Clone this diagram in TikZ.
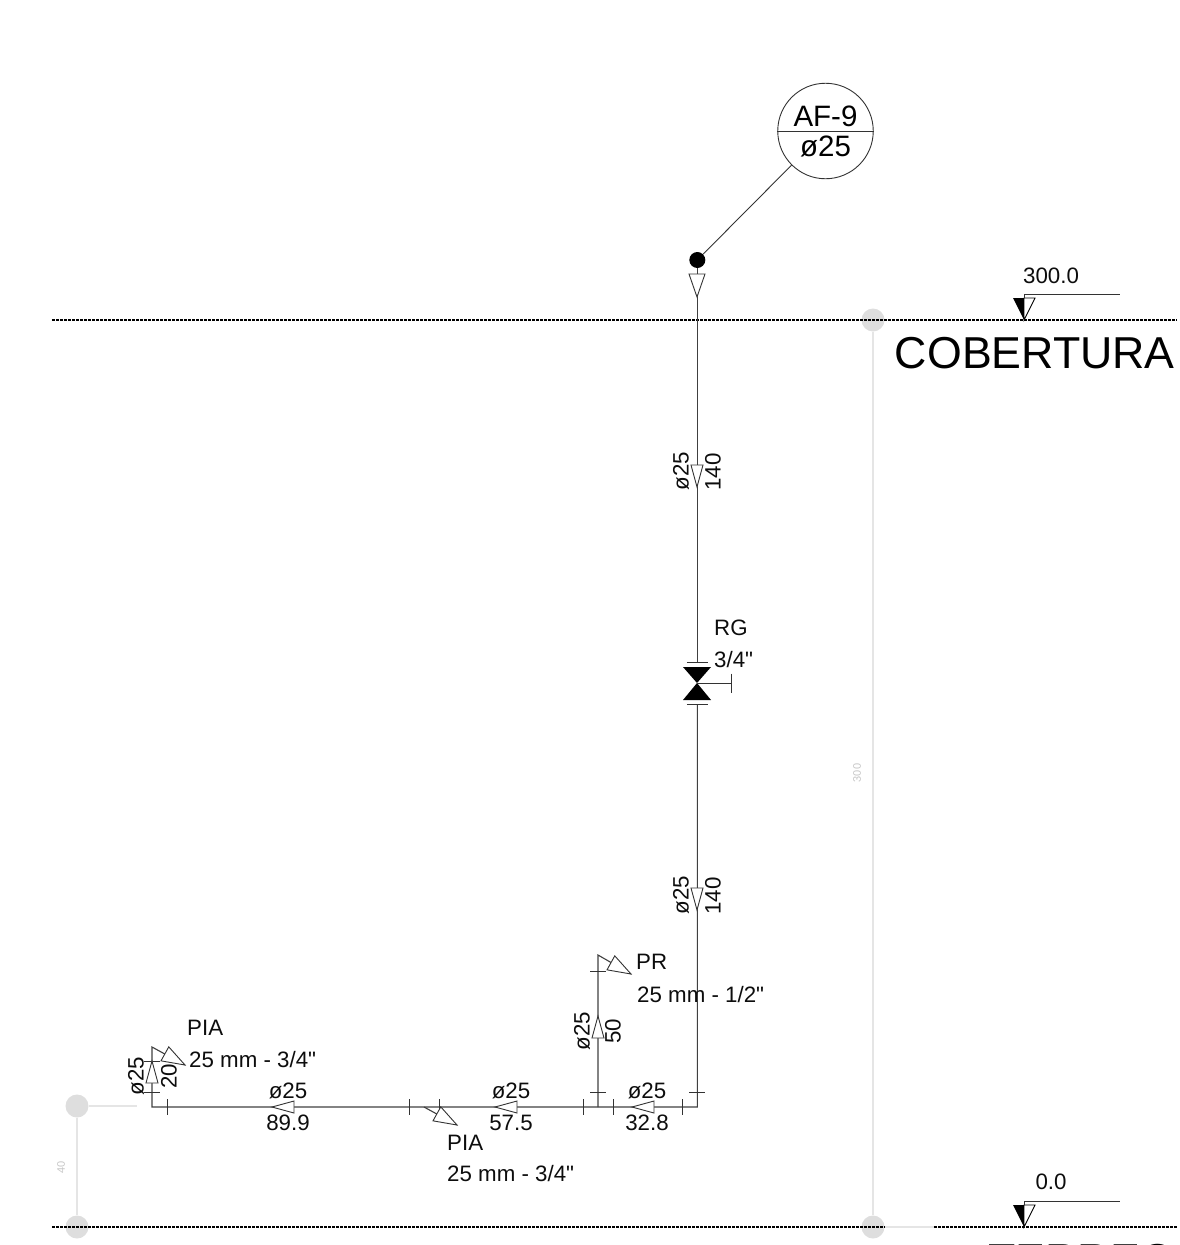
\documentclass[tikz,border=0pt]{standalone}
\usepackage{fontspec}
\newfontfamily\plainfont{Liberation Sans}
\setmainfont{Liberation Sans}
\tikzset{
  pipe/.style={draw=black!75,line width=1.1pt},
  thin line/.style={draw=black!80,line width=0.9pt},
  level line/.style={draw=black,line width=1.4pt,dash pattern=on 3pt off 1pt},
  guide/.style={draw=black!10,line width=1.6pt},
  guide dot/.style={circle,fill=black!13,draw=none,minimum size=23pt,inner sep=0pt},
  lbl/.style={font=\plainfont\fontsize{22.3}{24}\selectfont,inner sep=0pt,text=black!95},
  lbl left/.style={lbl,anchor=west},
  vlbl/.style={lbl,rotate=90},
  big/.style={font=\fontsize{44.7}{50}\selectfont,inner sep=0pt,anchor=base east},
  tag/.style={font=\fontsize{29.5}{31}\selectfont,inner sep=0pt},
  faint/.style={font=\fontsize{11}{12}\selectfont,inner sep=0pt,text=black!22,rotate=90},
  pics/flowtip/.style={code={
    \draw[thin line,fill=white,line join=miter] (0,0) -- (-22,6) -- (-22,-6) -- cycle;}},
  pics/widetip/.style={code={
    \draw[thin line,fill=white,line join=miter] (0,0) -- (-23,8) -- (-23,-8) -- cycle;}},
  pics/elevmark/.style={code={
    \fill[black] (0,0) -- (-11,-22) -- (0,-22) -- cycle;
    \draw[black,line width=0.9pt,fill=white] (0,0) -- (11,-22) -- (0,-22) -- cycle;}}
}
\begin{document}
\begin{tikzpicture}[x=1pt,y=-1pt]
\useasboundingbox (0,0) rectangle (1179,1245);
\clip (0,0) rectangle (1179,1245);
% guide lines and dots
\node[guide dot] (gTop) at (873,320) {};
\node[guide dot] (gBot) at (873,1227) {};
\node[guide dot] (gLeft) at (77,1106) {};
\node[guide dot] (gLeftBot) at (77,1227) {};
\coordinate (gLeftEnd) at (137,1106);
\coordinate (gBotEnd) at (934,1227);
\draw[guide] (gTop) -- (gBot);
\draw[guide] (gLeft) -- (gLeftBot);
\draw[guide] (gLeft) -- (gLeftEnd);
\draw[guide] (gBot) -- (gBotEnd);
\node[faint] (dim300) at (857,773) {300};
\node[faint] (dim40) at (61,1167) {40};
% levels
\coordinate (lvTopL) at (52,320);
\coordinate (lvTopR) at (1177,320);
\coordinate (lvBotL) at (52,1227);
\coordinate (lvBotA) at (885,1227);
\coordinate (lvBotB) at (934,1227);
\coordinate (lvBotR) at (1177,1227);
\draw[level line] (lvTopL) -- (lvTopR);
\draw[level line] (lvBotL) -- (lvBotA);
\draw[level line] (lvBotB) -- (lvBotR);
% elevation marks
\coordinate (elTop) at (1024,320);
\coordinate (elTopA) at (1024,294);
\coordinate (elTopB) at (1120,294);
\coordinate (elBot) at (1024,1227);
\coordinate (elBotA) at (1024,1201);
\coordinate (elBotB) at (1120,1201);
\pic at (elTop) {elevmark};
\pic at (elBot) {elevmark};
\draw[thin line] (elTop) ++(0,-22) -- (elTopA) -- (elTopB);
\draw[thin line] (elBot) ++(0,-22) -- (elBotA) -- (elBotB);
\node[lbl] (t300) at (1051,276) {300.0};
\node[lbl] (t0) at (1051,1182) {0.0};
\node[big] (tCob) at (1175,368) {COBERTURA};
\node[big] (tTer) at (1175,1275) {TERREO};
% tag
\node[circle,draw=black!80,line width=0.9pt,minimum size=95.5pt,inner sep=0pt] (af) at (825.5,131) {};
\draw[thin line] (af.west) -- (af.east);
\node[tag] (afA) at (825.5,116) {AF-9};
\node[tag] (afB) at (825.5,146) {ø25};
\node[circle,fill=black,minimum size=16pt,inner sep=0pt] (dot) at (697.3,260) {};
\draw[thin line] (af) -- (dot);
% pipes
\coordinate (vTop) at (697.3,662);
\coordinate (vBot) at (697.3,704);
\coordinate (corner) at (697.3,1107);
\coordinate (junction) at (598,1107);
\coordinate (cornerL) at (152,1107);
\coordinate (endL) at (152,1047);
\coordinate (endB) at (598,955);
\coordinate (tipPR) at (631,974);
\coordinate (tipPIAa) at (185,1065);
\coordinate (startPIAb) at (424,1107);
\coordinate (tipPIAb) at (457,1125);
\draw[pipe] (dot) -- (vTop);
\draw[pipe,line join=miter] (vBot) -- (corner) -- (cornerL) -- (endL) -- (tipPIAa);
\draw[pipe,line join=miter] (junction) -- (endB) -- (tipPR);
\draw[pipe] (startPIAb) -- (tipPIAb);
% ticks
\foreach \n/\x/\y in {a/167/1107,b/409/1107,c/439/1107,d/583/1107,e/613/1107,f/682/1107}{
  \coordinate (h\n) at (\x,\y);
  \draw[thin line] (h\n) ++(0,-8) -- ++(0,16);}
\foreach \n/\x/\y in {a/697/1092,b/598/1092,c/598/971,d/152/1092,e/152/1061}{
  \coordinate (k\n) at (\x,\y);
  \draw[thin line] (k\n) ++(-8,0) -- ++(16,0);}
% valve
\coordinate (vc) at (697,683);
\coordinate (vs) at (731,683);
\fill[black] (vc) -- (683,667) -- (711,667) -- cycle;
\fill[black] (vc) -- (683,700) -- (711,700) -- cycle;
\draw[thin line] (vc) -- (vs);
\draw[thin line] (vs) ++(0,-9.5) -- ++(0,19);
\draw[thin line] (vTop) ++(-10.5,0) -- ++(21,0);
\draw[thin line] (vBot) ++(-10.5,0) -- ++(21,0);
% flow arrows
\pic[rotate=-90] at (697,297) {widetip};
\pic[rotate=-90] at (697,487) {flowtip};
\pic[rotate=-90] at (697,910) {flowtip};
\pic[rotate=90] at (598,1016) {flowtip};
\pic[rotate=90] at (152,1061) {flowtip};
\pic[rotate=180] at (272,1107) {flowtip};
\pic[rotate=180] at (495,1107) {flowtip};
\pic[rotate=180] at (632,1107) {flowtip};
\pic[rotate=-29] at (tipPR) {widetip};
\pic[rotate=-29] at (tipPIAa) {widetip};
\pic[rotate=-29] at (tipPIAb) {widetip};
% labels
\node[vlbl] (l1) at (681,471) {ø25};
\node[vlbl] (l2) at (713,472) {140};
\node[vlbl] (l3) at (681,895) {ø25};
\node[vlbl] (l4) at (713,896) {140};
\node[vlbl] (l5) at (582,1031) {ø25};
\node[vlbl] (l6) at (613,1031) {50};
\node[vlbl] (l7) at (136,1076) {ø25};
\node[vlbl] (l8) at (169,1076) {20};
\node[lbl] (h1) at (288,1091) {ø25};
\node[lbl] (h2) at (288,1123) {89.9};
\node[lbl] (h3) at (511,1091) {ø25};
\node[lbl] (h4) at (511,1123) {57.5};
\node[lbl] (h5) at (647,1091) {ø25};
\node[lbl] (h6) at (647,1123) {32.8};
\node[lbl left] (n1) at (714,628) {RG};
\node[lbl left] (n2) at (714,660) {3/4"};
\node[lbl left] (n3) at (187,1028) {PIA};
\node[lbl left] (n4) at (189,1060) {25 mm - 3/4"};
\node[lbl left] (n5) at (636,962) {PR};
\node[lbl left] (n6) at (637,995) {25 mm - 1/2"};
\node[lbl left] (n7) at (447,1143) {PIA};
\node[lbl left] (n8) at (447,1174) {25 mm - 3/4"};
\end{tikzpicture}
\end{document}
